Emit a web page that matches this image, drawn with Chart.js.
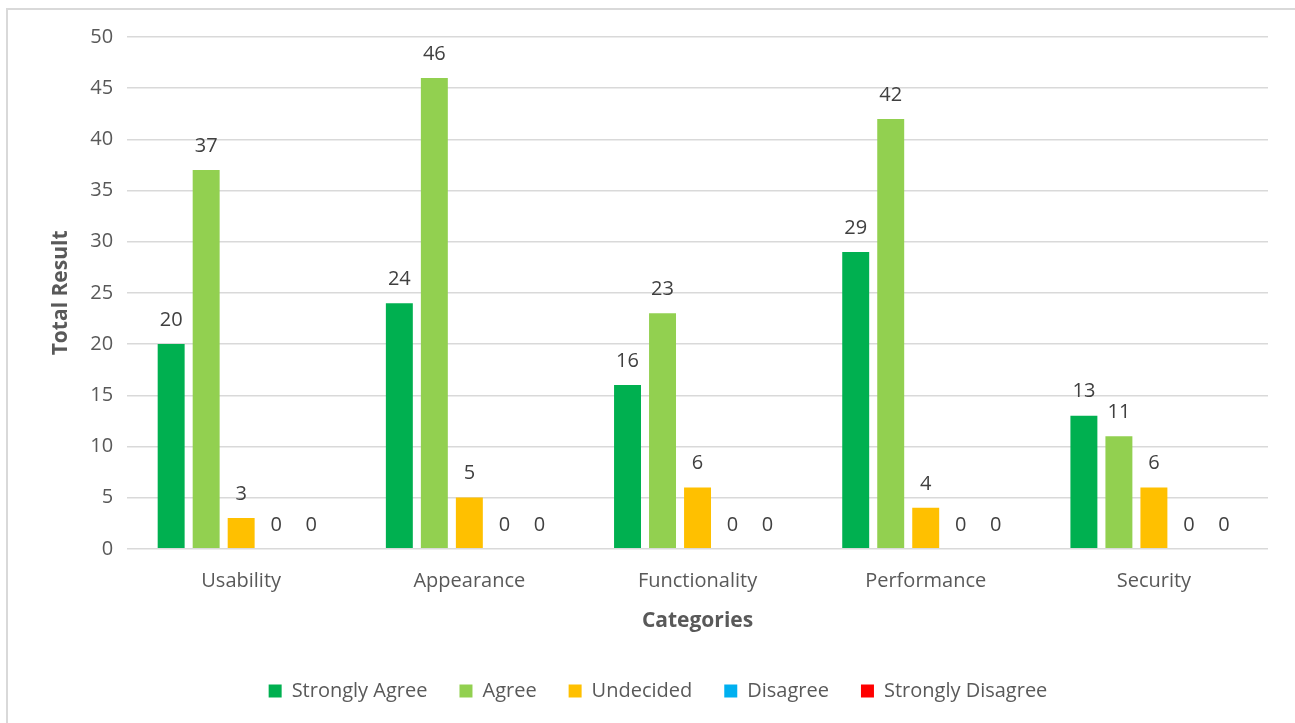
<!DOCTYPE html>
<html>
<head>
<meta charset="utf-8">
<script src="https://cdn.jsdelivr.net/npm/chart.js@4.4.1/dist/chart.umd.min.js"></script>
<style>
  html, body { margin: 0; padding: 0; background: #fff; }
  #frame {
    position: absolute; left: 6px; top: 8px; width: 1300px; height: 730px;
    border: 2px solid #d9d9d9; box-sizing: border-box;
  }
  #wrap { position: absolute; left: 0; top: 0; width: 1295px; height: 723px; }
</style>
</head>
<body>
<div id="frame"></div>
<div id="wrap"><canvas id="myChart"></canvas></div>
<script>
const categories = ["Usability", "Appearance", "Functionality", "Performance", "Security"];

const stronglyAgree    = [20, 24, 16, 29, 13];
const agree            = [37, 46, 23, 42, 11];
const undecided        = [3, 5, 6, 4, 6];
const disagree         = [0, 0, 0, 0, 0];
const stronglyDisagree = [0, 0, 0, 0, 0];

const seriesNames  = ["Strongly Agree", "Agree", "Undecided", "Disagree", "Strongly Disagree"];
const seriesColors = ["#00B050", "#92D050", "#FFC000", "#00B0F0", "#FF0000"];
const seriesValues = [stronglyAgree, agree, undecided, disagree, stronglyDisagree];

const FONT = "'Open Sans', sans-serif";

// value written above each bar
const barLabels = {
	id: "barLabels",
	afterDatasetsDraw(chart) {
		const ctx = chart.ctx;
		ctx.save();
		ctx.font = "20px " + FONT;
		ctx.fillStyle = "#404040";
		ctx.textAlign = "center";
		ctx.textBaseline = "bottom";
		chart.data.datasets.forEach(function(ds, i) {
			chart.getDatasetMeta(i).data.forEach(function(bar, j) {
				ctx.fillText(ds.data[j], bar.x, bar.y - 14);
			});
		});
		ctx.restore();
	}
};

const data = {
	labels: categories,
	datasets: seriesNames.map(function(name, i) {
		return {
			label: name,
			data: seriesValues[i],
			backgroundColor: seriesColors[i],
			borderWidth: 0,
			categoryPercentage: 0.767,
			barPercentage: 0.77
		};
	})
};

const config = {
	type: 'bar',
	data: data,
	options: {
		responsive: true,
		maintainAspectRatio: false,
		animation: false,
		layout: { padding: { left: 48, right: 27, top: 37, bottom: 12 } },
		plugins: {
			legend: {
				position: 'bottom',
				labels: {
					boxWidth: 13,
					boxHeight: 13,
					padding: 32,
					color: "#595959",
					font: { family: FONT, size: 20 }
				}
			},
			tooltip: { enabled: false }
		},
		scales: {
			x: {
				grid: { display: false },
				border: { display: false },
				ticks: { color: "#595959", font: { family: FONT, size: 20 }, padding: 12 },
				title: {
					display: true, text: "Categories", color: "#595959",
					font: { family: FONT, size: 21, weight: "bold" },
					padding: { top: 4, bottom: 15 }
				}
			},
			y: {
				min: 0, max: 50,
				ticks: { stepSize: 5, color: "#595959", font: { family: FONT, size: 20 }, padding: 14 },
				grid: { color: "#d9d9d9", lineWidth: 1.5, drawTicks: false },
				border: { display: false },
				title: {
					display: true, text: "Total Result", color: "#595959",
					font: { family: FONT, size: 21, weight: "bold" },
					padding: { top: 0, bottom: 3 }
				}
			}
		}
	},
	plugins: [barLabels]
};

const myChart = new Chart(document.getElementById('myChart'), config);
</script>
</body>
</html>
